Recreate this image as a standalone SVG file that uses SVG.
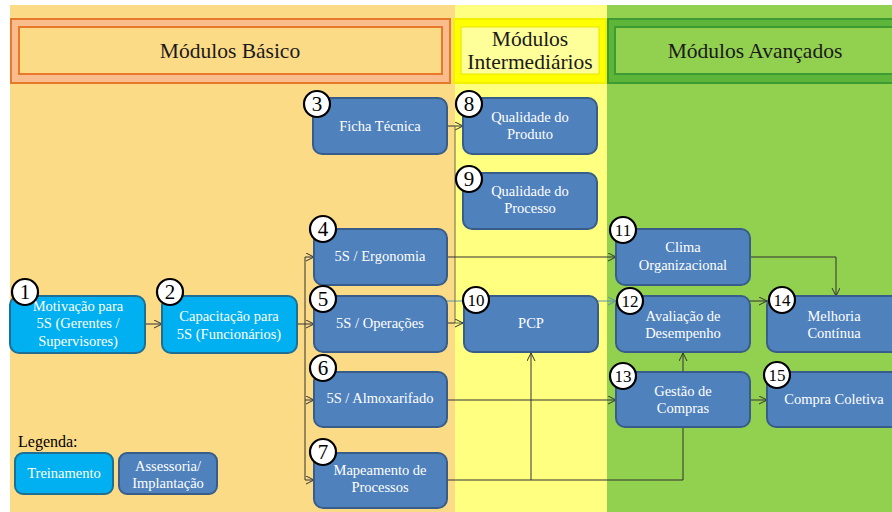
<svg xmlns="http://www.w3.org/2000/svg" width="892" height="512" viewBox="0 0 892 512">
<defs>
<marker id="arr" markerWidth="10" markerHeight="10" refX="8" refY="4" orient="auto" markerUnits="userSpaceOnUse">
<path d="M0,0 L8,4 L0,8" fill="none" stroke="#333" stroke-width="1"/>
</marker>
<marker id="arrT" markerWidth="10" markerHeight="10" refX="8" refY="4" orient="auto" markerUnits="userSpaceOnUse">
<path d="M0,0 L8,4 L0,8" fill="none" stroke="#5A8FB0" stroke-width="1"/>
</marker>
</defs>
<style>
.hdr{font-family:"Liberation Serif","Times New Roman",serif;font-size:21.5px;fill:#1a1a1a;text-anchor:middle}
.n rect{fill:#4F81BD;stroke:#385D8A;stroke-width:2}
.t rect{fill:#00B0F0;stroke:#1F6F95;stroke-width:2}
.lbl{font-family:"Liberation Serif","Times New Roman",serif;font-size:14.5px;fill:#ffffff;text-anchor:middle}
.b circle{fill:#ffffff;stroke:#000000;stroke-width:2.2}
.bn{font-family:"Liberation Serif","Times New Roman",serif;font-size:21px;fill:#000;text-anchor:middle}
.bn2{font-family:"Liberation Serif","Times New Roman",serif;font-size:17px;fill:#000;text-anchor:middle}
.c{fill:none;stroke:#333;stroke-width:1}
</style>
<rect x="0" y="0" width="892" height="512" fill="#ffffff"/>
<rect x="10" y="5" width="445" height="507" fill="#FCDB87"/>
<rect x="455" y="5" width="152" height="507" fill="#FFFF80"/>
<rect x="607" y="5" width="285" height="507" fill="#92D050"/>

<g id="header-basico">
<rect x="11" y="19" width="439" height="64" fill="#F9BC8C" stroke="#E8792A" stroke-width="2"/>
<rect x="19" y="27" width="423" height="47" fill="#FCDB87" stroke="#E8792A" stroke-width="2"/>
<text class="hdr" x="230" y="58">Módulos Básico</text>
</g>
<g id="header-intermediarios">
<rect x="454" y="19" width="152" height="64" fill="#FFFF00" stroke="#F2F200" stroke-width="2"/>
<rect x="461" y="27" width="138" height="47" fill="#FFFF99" stroke="#E6E600" stroke-width="1"/>
<text class="hdr" x="530" y="46">Módulos</text>
<text class="hdr" x="530" y="69">Intermediários</text>
</g>
<g id="header-avancados">
<rect x="608" y="19" width="290" height="64" fill="#5DB53A" stroke="#3E9A33" stroke-width="2"/>
<rect x="615" y="27" width="283" height="47" fill="#92D050" stroke="#3E9A33" stroke-width="2"/>
<text class="hdr" x="755" y="58">Módulos Avançados</text>
</g>

<g id="connectors">
<path class="c" d="M447,301 L616,301" style="stroke:#5A8FB0" marker-end="url(#arrT)"/>
<path class="c" d="M145,324 L162,324" marker-end="url(#arr)"/>
<path class="c" d="M297,324 L314,324" marker-end="url(#arr)"/>
<path class="c" d="M305,257 L305,480"/>
<path class="c" d="M305,257 L314,257" marker-end="url(#arr)"/>
<path class="c" d="M305,400 L314,400" marker-end="url(#arr)"/>
<path class="c" d="M305,480 L314,480" marker-end="url(#arr)"/>
<path class="c" d="M447,126 L463,126" marker-end="url(#arr)"/>
<path class="c" d="M455,126 L455,323 L463,323" style="stroke:#6B6B4A" marker-end="url(#arr)"/>
<path class="c" d="M447,323 L455,323"/>
<path class="c" d="M447,257 L616,257" marker-end="url(#arr)"/>
<path class="c" d="M447,400 L616,400" marker-end="url(#arr)"/>
<path class="c" d="M447,480 L683,480 L683,427"/>
<path class="c" d="M531,480 L531,353" marker-end="url(#arr)"/>
<path class="c" d="M683,372 L683,353" marker-end="url(#arr)"/>
<path class="c" d="M750,257 L836,257 L836,296" marker-end="url(#arr)"/>
<path class="c" d="M750,301 L767,301" marker-end="url(#arr)"/>
<path class="c" d="M750,400 L767,400" marker-end="url(#arr)"/>
</g>

<g id="node1" class="t">
<rect x="10" y="296" width="135" height="57" rx="9"/>
<text class="lbl" x="78" y="311">Motivação para</text>
<text class="lbl" x="78" y="328">5S (Gerentes /</text>
<text class="lbl" x="78" y="346">Supervisores)</text>
<g class="b"><circle cx="25" cy="292" r="13"/></g><text class="bn" x="25" y="299">1</text>
</g>
<g id="node2" class="t">
<rect x="162" y="296" width="135" height="57" rx="9"/>
<text class="lbl" x="229" y="321">Capacitação para</text>
<text class="lbl" x="229" y="339">5S (Funcionários)</text>
<g class="b"><circle cx="170" cy="292" r="13"/></g><text class="bn" x="170" y="299">2</text>
</g>
<g id="node3" class="n">
<rect x="313" y="98" width="134" height="56" rx="9"/>
<text class="lbl" x="380" y="131">Ficha Técnica</text>
<g class="b"><circle cx="317" cy="104" r="13"/></g><text class="bn" x="317" y="111">3</text>
</g>
<g id="node4" class="n">
<rect x="314" y="229" width="133" height="56" rx="9"/>
<text class="lbl" x="380" y="261">5S / Ergonomia</text>
<g class="b"><circle cx="323" cy="229" r="13"/></g><text class="bn" x="323" y="236">4</text>
</g>
<g id="node5" class="n">
<rect x="314" y="296" width="133" height="56" rx="9"/>
<text class="lbl" x="380" y="328">5S / Operações</text>
<g class="b"><circle cx="323" cy="299" r="13"/></g><text class="bn" x="323" y="306">5</text>
</g>
<g id="node6" class="n">
<rect x="314" y="372" width="133" height="55" rx="9"/>
<text class="lbl" x="380" y="403">5S / Almoxarifado</text>
<g class="b"><circle cx="323" cy="368" r="13"/></g><text class="bn" x="323" y="375">6</text>
</g>
<g id="node7" class="n">
<rect x="314" y="453" width="133" height="55" rx="9"/>
<text class="lbl" x="380" y="475">Mapeamento de</text>
<text class="lbl" x="380" y="492">Processos</text>
<g class="b"><circle cx="323" cy="452" r="13"/></g><text class="bn" x="323" y="459">7</text>
</g>
<g id="node8" class="n">
<rect x="463" y="98" width="134" height="56" rx="9"/>
<text class="lbl" x="530" y="122">Qualidade do</text>
<text class="lbl" x="530" y="139">Produto</text>
<g class="b"><circle cx="469" cy="104" r="13"/></g><text class="bn" x="469" y="111">8</text>
</g>
<g id="node9" class="n">
<rect x="463" y="173" width="134" height="56" rx="9"/>
<text class="lbl" x="530" y="196">Qualidade do</text>
<text class="lbl" x="530" y="213">Processo</text>
<g class="b"><circle cx="469" cy="179" r="13"/></g><text class="bn" x="469" y="186">9</text>
</g>
<g id="node10" class="n">
<rect x="464" y="296" width="134" height="56" rx="9"/>
<text class="lbl" x="531" y="328">PCP</text>
<g class="b"><circle cx="476" cy="300" r="13"/></g><text class="bn2" x="476" y="306">10</text>
</g>
<g id="node11" class="n">
<rect x="616" y="229" width="134" height="56" rx="9"/>
<text class="lbl" x="683" y="252">Clima</text>
<text class="lbl" x="683" y="270">Organizacional</text>
<g class="b"><circle cx="623" cy="230" r="13"/></g><text class="bn2" x="623" y="236">11</text>
</g>
<g id="node12" class="n">
<rect x="616" y="296" width="134" height="56" rx="9"/>
<text class="lbl" x="683" y="321">Avaliação de</text>
<text class="lbl" x="683" y="338">Desempenho</text>
<g class="b"><circle cx="630" cy="301" r="13"/></g><text class="bn2" x="630" y="307">12</text>
</g>
<g id="node13" class="n">
<rect x="616" y="372" width="134" height="55" rx="9"/>
<text class="lbl" x="683" y="396">Gestão de</text>
<text class="lbl" x="683" y="413">Compras</text>
<g class="b"><circle cx="623" cy="376" r="13"/></g><text class="bn2" x="623" y="382">13</text>
</g>
<g id="node14" class="n">
<rect x="767" y="296" width="134" height="56" rx="9"/>
<text class="lbl" x="834" y="321">Melhoria</text>
<text class="lbl" x="834" y="338">Contínua</text>
<g class="b"><circle cx="782" cy="300" r="13"/></g><text class="bn2" x="782" y="306">14</text>
</g>
<g id="node15" class="n">
<rect x="767" y="372" width="134" height="55" rx="9"/>
<text class="lbl" x="834" y="404">Compra Coletiva</text>
<g class="b"><circle cx="777" cy="375" r="13"/></g><text class="bn2" x="777" y="381">15</text>
</g>

<g id="legend">
<text x="18" y="447" style="font-family:'Liberation Serif','Times New Roman',serif;font-size:16px;fill:#000">Legenda:</text>
<g class="t"><rect x="15" y="453" width="98" height="41" rx="8"/></g>
<text class="lbl" x="64" y="478">Treinamento</text>
<g class="n"><rect x="119" y="453" width="98" height="41" rx="8"/></g>
<text class="lbl" x="168" y="471">Assessoria/</text>
<text class="lbl" x="168" y="488">Implantação</text>
</g>
</svg>
